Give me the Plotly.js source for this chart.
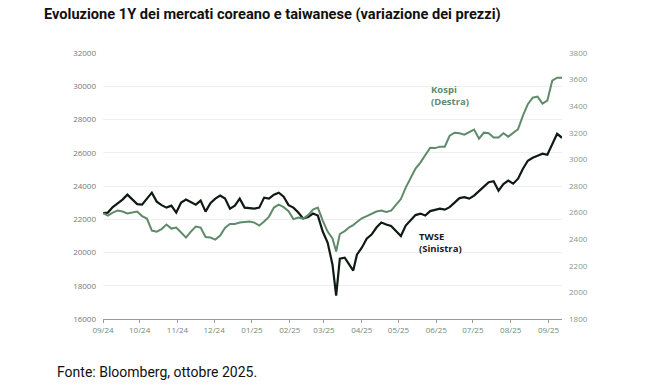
<!DOCTYPE html>
<html>
<head>
<meta charset="utf-8">
<script src="https://cdn.plot.ly/plotly-3.0.1.min.js"></script>
<style>html,body{margin:0;padding:0;background:#fff;}#chart{width:646px;height:388px;}</style>
</head>
<body>
<div id="chart"></div>
<script>
const dates = [
"2024-09-01","2024-09-05","2024-09-09","2024-09-13","2024-09-17","2024-09-21","2024-09-25","2024-09-29",
"2024-10-03","2024-10-07","2024-10-11","2024-10-15","2024-10-19","2024-10-23","2024-10-27","2024-10-31",
"2024-11-04","2024-11-08","2024-11-12","2024-11-16","2024-11-20","2024-11-24","2024-11-28",
"2024-12-02","2024-12-06","2024-12-10","2024-12-14","2024-12-18","2024-12-22","2024-12-26","2024-12-30",
"2025-01-03","2025-01-07","2025-01-11","2025-01-15","2025-01-19","2025-01-23","2025-01-27","2025-01-31",
"2025-02-04","2025-02-08","2025-02-12","2025-02-16","2025-02-20","2025-02-24","2025-02-28",
"2025-03-04","2025-03-08","2025-03-11","2025-03-14","2025-03-18","2025-03-22","2025-03-25","2025-03-28",
"2025-04-01","2025-04-05","2025-04-09","2025-04-13","2025-04-17","2025-04-21","2025-04-25","2025-04-29",
"2025-05-03","2025-05-07","2025-05-11","2025-05-15","2025-05-19","2025-05-23","2025-05-27","2025-05-31",
"2025-06-04","2025-06-08","2025-06-12","2025-06-16","2025-06-20","2025-06-24","2025-06-28",
"2025-07-02","2025-07-06","2025-07-10","2025-07-14","2025-07-18","2025-07-22","2025-07-26","2025-07-30",
"2025-08-03","2025-08-07","2025-08-11","2025-08-15","2025-08-19","2025-08-23","2025-08-27","2025-08-31",
"2025-09-04","2025-09-08","2025-09-12"
];
// TWSE (left axis)
const twse = [
22370,22400,22730,22940,23180,23480,23180,22910,
22880,23270,23600,23060,22850,22700,22820,22400,
23000,23180,23030,22880,23120,22460,22970,
23240,23420,23240,22640,22820,23240,22700,22670,
22640,22700,23300,23240,23480,23600,23360,22850,
22700,22400,22040,22130,22340,22220,21260,
20600,19270,17410,19630,19690,19210,18910,19870,
20290,20830,21080,21500,21800,21680,21590,21290,
20990,21620,21920,22250,22340,22220,22490,22550,
22640,22580,22730,23000,23270,23330,23240,
23420,23720,23960,24230,24290,23720,24110,24320,
24140,24440,25040,25520,25700,25820,25940,25880,
26480,27140,26900
];
// Kospi (right axis)
const kospi = [
2596,2578,2600,2615,2608,2593,2600,2608,
2574,2555,2465,2457,2476,2510,2480,2487,
2450,2412,2457,2495,2487,2416,2412,
2397,2427,2487,2514,2514,2525,2529,2533,
2525,2502,2533,2570,2638,2660,2641,2611,
2551,2563,2555,2581,2623,2638,2540,
2457,2405,2307,2439,2461,2491,2506,2529,
2557,2574,2593,2608,2615,2604,2615,2656,
2702,2788,2859,2931,2976,3028,3088,3085,
3096,3096,3179,3201,3197,3186,3205,
3224,3156,3201,3197,3164,3164,3197,3171,
3201,3227,3329,3415,3464,3472,3419,3442,
3592,3614,3614
];
const leftTicks = [16000,18000,20000,22000,24000,26000,28000,30000,32000];
const rightTicks = [1800,2000,2200,2400,2600,2800,3000,3200,3400,3600,3800];
const monthTicks = ["2024-09-01","2024-10-01","2024-11-01","2024-12-01","2025-01-01","2025-02-01","2025-03-01","2025-04-01","2025-05-01","2025-06-01","2025-07-01","2025-08-01","2025-09-01"];
const monthLabels = ["09/24","10/24","11/24","12/24","01/25","02/25","03/25","04/25","05/25","06/25","07/25","08/25","09/25"];

const green = "#5f8b6a";
const dark = "#0f1a12";

const traces = [
  {x: dates, y: kospi, yaxis: "y2", type: "scatter", mode: "lines", name: "Kospi",
   line: {color: green, width: 2}},
  {x: dates, y: twse, yaxis: "y", type: "scatter", mode: "lines", name: "TWSE",
   line: {color: dark, width: 2.2}}
];

const layout = {
  width: 646, height: 388,
  margin: {l: 103, r: 84, t: 53, b: 69},
  paper_bgcolor: "#fff", plot_bgcolor: "#fff",
  showlegend: false,
  font: {family: "Open Sans, sans-serif", size: 8, color: "#777"},
  title: {text: "Evoluzione 1Y dei mercati coreano e taiwanese (variazione dei prezzi)",
    font: {family: "Roboto, sans-serif", size: 14.6, color: "#111", weight: 700},
    xref: "container", yref: "container", x: 44/646, xanchor: "left", y: 1 - 14/388, yanchor: "middle"},
  xaxis: {type: "date", range: [dates[0], dates[dates.length-1]],
    tickvals: monthTicks, ticktext: monthLabels,
    showgrid: false, zeroline: false, showline: true, linecolor: "#9a9a9a", linewidth: 1,
    ticks: "outside", ticklen: 3, tickcolor: "#9a9a9a",
    tickfont: {size: 8, color: "#6f8a7c"}},
  yaxis: {range: [16000, 32000], tickvals: leftTicks, tickformat: "d", showgrid: true, gridcolor: "#efefef",
    zeroline: false, showline: false, ticks: "", ticklabelstandoff: 6,
    tickfont: {size: 8, color: "#777"}},
  yaxis2: {range: [1800, 3800], tickvals: rightTicks, tickformat: "d", overlaying: "y", side: "right",
    showgrid: false, zeroline: false, showline: false, ticks: "", ticklabelstandoff: 6,
    tickfont: {size: 8, color: "#7f9a8b"}},
  annotations: [
    {text: "<b>Kospi</b><br><b>(Destra)</b>", xref: "paper", yref: "paper",
     x: (429-103)/459, y: (319-95)/266, xanchor: "left", yanchor: "middle", align: "left",
     showarrow: false, font: {family: "Open Sans, sans-serif", size: 9.5, color: green}},
    {text: "<b>TWSE</b><br><b>(Sinistra)</b>", xref: "paper", yref: "paper",
     x: (417-103)/459, y: (319-242)/266, xanchor: "left", yanchor: "middle", align: "left",
     showarrow: false, font: {family: "Open Sans, sans-serif", size: 9.5, color: "#1a1a1a"}},
    {text: "Fonte: Bloomberg, ottobre 2025.", xref: "paper", yref: "paper",
     x: (55-103)/459, y: (319-372)/266, xanchor: "left", yanchor: "middle",
     showarrow: false, font: {family: "Roboto, sans-serif", size: 14, color: "#111"}}
  ]
};

Plotly.newPlot("chart", traces, layout, {staticPlot: true, displayModeBar: false});
</script>
</body>
</html>
